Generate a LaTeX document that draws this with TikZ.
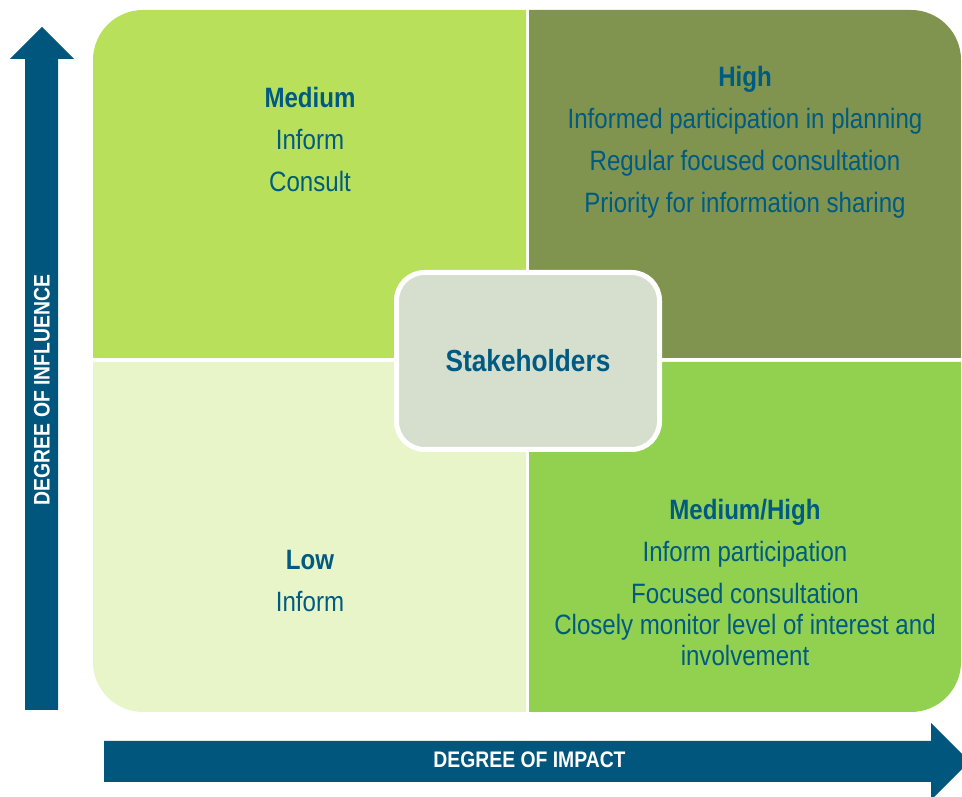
\documentclass[tikz,border=0pt]{standalone}
\usepackage{fontspec}
\setmainfont[FakeStretch=0.86]{Liberation Sans}
\usetikzlibrary{positioning}
\definecolor{colText}{HTML}{005B82}
\definecolor{colAxis}{HTML}{00567C}
\definecolor{colMedium}{HTML}{B8E05A}
\definecolor{colHigh}{HTML}{80944F}
\definecolor{colLow}{HTML}{E8F5C8}
\definecolor{colMedHigh}{HTML}{92D050}
\definecolor{colCentre}{HTML}{D6DECE}
\tikzset{
  quadText/.style={
    align=center, inner sep=0pt, anchor=north, text=colText,
    font=\fontsize{28}{31}\selectfont
  },
  centreBox/.style={
    draw=white, line width=5pt, fill=colCentre, rounded corners=28pt,
    minimum width=263pt, minimum height=177pt, text=colText,
    font=\fontsize{30.5}{36}\selectfont\bfseries
  },
  axisLabel/.style={text=white, inner sep=0pt, font=\fontsize{22.5}{26}\selectfont\bfseries},
}

\begin{document}
\begin{tikzpicture}[x=1pt, y=1pt]
  \useasboundingbox (0,0) rectangle (962,797);

  % the four quadrants, rounded only on the outer corners
  \fill[colMedium] (526,439) -- (93,439) -- (93,737)
    arc[start angle=180, end angle=90, radius=50] -- (526,787) -- cycle;
  \fill[colHigh] (529,439) -- (529,787) -- (911,787)
    arc[start angle=90, end angle=0, radius=50] -- (961,439) -- cycle;
  \fill[colLow] (526,435) -- (93,435) -- (93,135)
    arc[start angle=180, end angle=270, radius=50] -- (526,85) -- cycle;
  \fill[colMedHigh] (529,435) -- (529,85) -- (911,85)
    arc[start angle=270, end angle=360, radius=50] -- (961,435) -- cycle;

  \node[quadText] (medium) at (310,710)
    {\textbf{Medium}\\[11pt] Inform\\[11pt] Consult};
  \node[quadText] (high) at (745,731)
    {\textbf{High}\\[11pt] Informed participation in planning\\[11pt]
     Regular focused consultation\\[11pt] Priority for information sharing};
  \node[quadText] (low) at (310,247)
    {\textbf{Low}\\[11pt] Inform};
  \node[quadText] (medHigh) at (745,298)
    {\textbf{Medium/High}\\[11pt] Inform participation\\[11pt]
     Focused consultation\\ Closely monitor level of interest and\\ involvement};

  \node[centreBox] (stake) at (528,436) {Stakeholders};

  % axis arrows
  \fill[colAxis] (25,87) -- (25,738) -- (10,738) -- (42,770) -- (74,738)
    -- (58,738) -- (58,87) -- cycle;
  \fill[colAxis] (104,56) -- (931,56) -- (931,74) -- (969.5,35.5)
    -- (931,-3) -- (931,15) -- (104,15) -- cycle;
  \node[axisLabel, rotate=90] (influence) at (42,407) {DEGREE OF INFLUENCE};
  \node[axisLabel] (impact) at (529.5,37) {DEGREE OF IMPACT};
\end{tikzpicture}
\end{document}
